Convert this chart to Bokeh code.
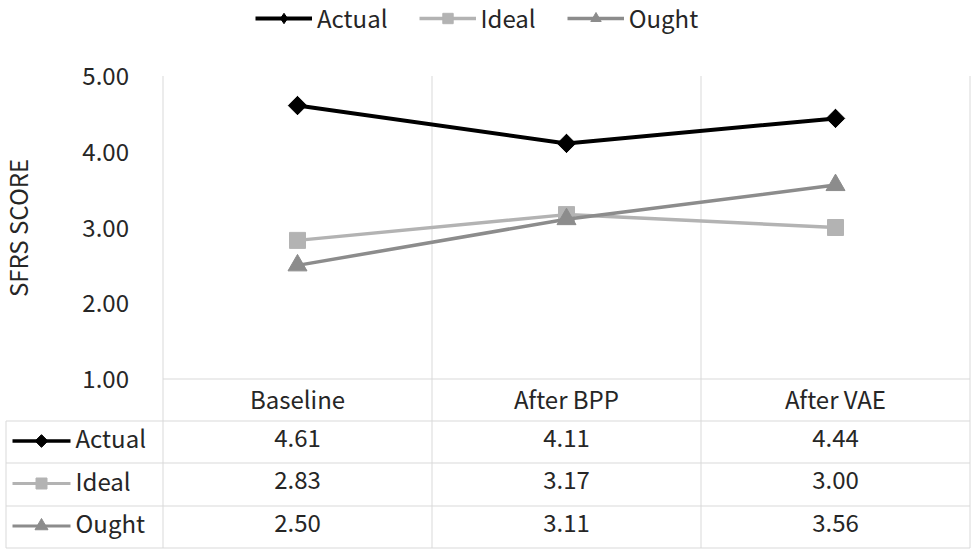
import math
from bokeh.plotting import figure
from bokeh.models import Range1d, FixedTicker, NumeralTickFormatter, Legend, LegendItem
from bokeh.core.properties import value
from bokeh.embed import file_html
from bokeh.resources import INLINE

# ---------------- data ----------------
categories = ["Baseline", "After BPP", "After VAE"]
series_names = ["Actual", "Ideal", "Ought"]
actual = [4.61, 4.11, 4.44]
ideal = [2.83, 3.17, 3.00]
ought = [2.50, 3.11, 3.56]
y_ticks = [1, 2, 3, 4, 5]
y_label = "SFRS SCORE"

# ---------------- styles ----------------
FONT = "Noto Sans CJK KR"
FS = "24px"
TXT = "#262626"
GRID = "#d9d9d9"
styles = {
    "Actual": dict(color="#000000", marker="square", angle=math.pi / 4, size=13, lw=4,
                   leg_marker="diamond", leg_size=18, key_marker="square", key_angle=math.pi / 4, key_size=9),
    "Ideal": dict(color="#b3b3b3", marker="square", angle=0, size=16, lw=3.5,
                  leg_marker=None, leg_size=None, key_marker="square", key_angle=0, key_size=11),
    "Ought": dict(color="#8c8c8c", marker="triangle", angle=0, size=19, lw=3.5,
                  leg_marker=None, leg_size=None, key_marker="triangle", key_angle=0, key_size=13),
}
series_values = {"Actual": actual, "Ideal": ideal, "Ought": ought}

# ---------------- layout (canvas pixels) ----------------
W, H = 972, 552
AX_X = 162.5      # left edge of plot area
RIGHT_X = 969.5   # right edge of plot area
TOP_Y = 75.5      # y of top tick
BASE_Y = 378.5    # y of bottom tick
ymin, ymax = y_ticks[0], y_ticks[-1]
ncat = len(categories)
cat_w = (RIGHT_X - AX_X) / ncat
ppu = (BASE_Y - TOP_Y) / (ymax - ymin)
x_start = -0.5 - AX_X / cat_w
x_end = ncat - 0.5 + (W - RIGHT_X) / cat_w
y_end = ymax + TOP_Y / ppu
y_start = ymin - (H - BASE_Y) / ppu

p = figure(width=W, height=H, x_range=Range1d(x_start, x_end), y_range=Range1d(y_start, y_end),
           x_axis_location=None, output_backend="svg", toolbar_location=None,
           min_border=0, outline_line_color=None)
p.extra_x_ranges = {"px": Range1d(0, W)}
p.extra_y_ranges = {"px": Range1d(H, 0)}
p.grid.visible = False

# table geometry (canvas px)
HEADER_TOP = BASE_Y
ROW_LINES = [420.5, 462.5, 505.5, 547.5]
LEFT_X = 5.5

# vertical lines (plot + table)
vx = [i - 0.5 for i in range(ncat + 1)]
p.segment(x0=vx, y0=[TOP_Y] * len(vx), x1=vx, y1=[ROW_LINES[-1]] * len(vx),
          y_range_name="px", line_color=GRID, line_width=1)
p.segment(x0=[LEFT_X], y0=[ROW_LINES[0]], x1=[LEFT_X], y1=[ROW_LINES[-1]],
          x_range_name="px", y_range_name="px", line_color=GRID, line_width=1)
# horizontal lines
p.segment(x0=[AX_X], y0=[HEADER_TOP], x1=[RIGHT_X], y1=[HEADER_TOP],
          x_range_name="px", y_range_name="px", line_color=GRID, line_width=1)
p.segment(x0=[LEFT_X] * len(ROW_LINES), y0=ROW_LINES, x1=[RIGHT_X] * len(ROW_LINES), y1=ROW_LINES,
          x_range_name="px", y_range_name="px", line_color=GRID, line_width=1)

# y axis fixed at the plot's left edge
ax = p.yaxis[0]
ax.fixed_location = -0.5
ax.ticker = FixedTicker(ticks=y_ticks)
ax.formatter = NumeralTickFormatter(format="0.00")
ax.bounds = (ymin, ymax)
ax.axis_line_color = None
ax.major_tick_line_color = None
ax.minor_tick_line_color = None
ax.major_tick_in = 0
ax.major_tick_out = 0
ax.major_label_standoff = 34
ax.major_label_text_font = FONT
ax.major_label_text_font_size = FS
ax.major_label_text_color = TXT
ax.axis_label = y_label
ax.axis_label_text_font = FONT
ax.axis_label_text_font_size = FS
ax.axis_label_text_font_style = "normal"
ax.axis_label_text_color = TXT
ax.axis_label_standoff = 45

# series
x_idx = list(range(ncat))
items = []
for name in series_names:
    st = styles[name]
    vals = series_values[name]
    rl = p.line(x_idx, vals, line_color=st["color"], line_width=st["lw"])
    leg_r = None
    if st["leg_marker"]:
        # legend-style marker (narrow diamond), hidden under the plot marker
        leg_r = p.scatter(x_idx, vals, marker=st["leg_marker"], size=st["leg_size"],
                          fill_color=st["color"], line_color=st["color"])
    rm = p.scatter(x_idx, vals, marker=st["marker"], size=st["size"], angle=st["angle"],
                   fill_color=st["color"], line_color=st["color"])
    items.append(LegendItem(label=name, renderers=[rl, leg_r if leg_r is not None else rm]))

LEG_H = 35
legend = Legend(items=items, orientation="horizontal", location=(255, H - LEG_H),
                glyph_width=57, glyph_height=26, label_standoff=5, spacing=31,
                padding=0, margin=0, border_line_color=None, background_fill_alpha=0,
                label_text_font=FONT, label_text_font_size=FS, label_text_color=TXT)
p.add_layout(legend)

# table: header row
header_cy = (HEADER_TOP + ROW_LINES[0]) / 2 - 2
p.text(x=x_idx, y=[header_cy] * ncat, text=categories, y_range_name="px",
       text_align="center", text_baseline="middle", text_font=value(FONT),
       text_font_size=FS, text_color=TXT)

# table: series rows
KEY_X0, KEY_X1, KEY_MID, LABEL_X = 12, 70, 41, 75
for i, name in enumerate(series_names):
    st = styles[name]
    vals = series_values[name]
    rc = (ROW_LINES[i] + ROW_LINES[i + 1]) / 2
    cy = rc - 4.5
    ky = rc - 1
    p.segment(x0=[KEY_X0], y0=[ky], x1=[KEY_X1], y1=[ky], x_range_name="px", y_range_name="px",
              line_color=st["color"], line_width=st["lw"] - 0.5)
    p.scatter(x=[KEY_MID], y=[ky], x_range_name="px", y_range_name="px", marker=st["key_marker"],
              size=st["key_size"], angle=st["key_angle"], fill_color=st["color"], line_color=st["color"])
    p.text(x=[LABEL_X], y=[cy], text=[name], x_range_name="px", y_range_name="px",
           text_align="left", text_baseline="middle", text_font=value(FONT),
           text_font_size=FS, text_color=TXT)
    p.text(x=x_idx, y=[cy] * ncat, text=[f"{v:.2f}" for v in vals], y_range_name="px",
           text_align="center", text_baseline="middle", text_font=value(FONT),
           text_font_size=FS, text_color=TXT)

open("out.html", "w").write(file_html(p, INLINE))
